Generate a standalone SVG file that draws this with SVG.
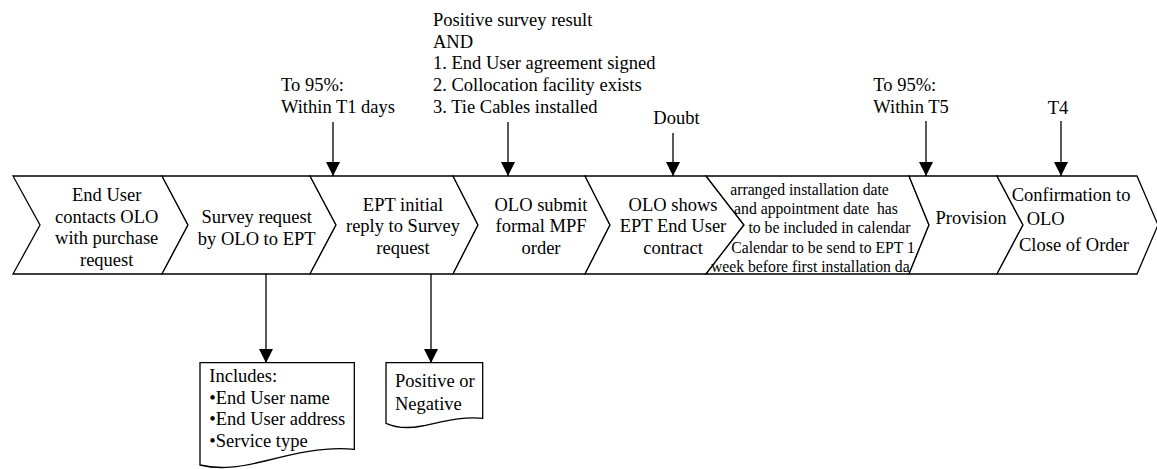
<svg xmlns="http://www.w3.org/2000/svg" width="1157" height="469" viewBox="0 0 1157 469">
<style>
.shape{fill:#fff;stroke:#000;stroke-width:1.3;stroke-linejoin:miter}
.t{font-family:"Liberation Serif","Times New Roman",serif;font-size:18.5px;fill:#000}
.s{font-family:"Liberation Serif","Times New Roman",serif;font-size:15.7px;fill:#000;white-space:pre}
.m{text-anchor:middle}
.conn{stroke:#000;stroke-width:1.3;fill:none}
</style>
<defs>
<marker id="arr" markerUnits="userSpaceOnUse" markerWidth="14" markerHeight="16" refX="14" refY="7" orient="auto">
<path d="M0,0 L14,7 L0,14 Z" fill="#000"/>
</marker>
<clipPath id="c6clip"><polygon points="690,176 909,176 929,225 909,274 690,274"/></clipPath>
</defs>
<rect width="1157" height="469" fill="#fff"/>

<g id="connectors">
<line class="conn" x1="333" y1="122" x2="333" y2="176" marker-end="url(#arr)"/>
<line class="conn" x1="508" y1="122" x2="508" y2="176" marker-end="url(#arr)"/>
<line class="conn" x1="673" y1="133" x2="673" y2="176" marker-end="url(#arr)"/>
<line class="conn" x1="926" y1="121" x2="926" y2="176" marker-end="url(#arr)"/>
<line class="conn" x1="1061" y1="121" x2="1061" y2="176" marker-end="url(#arr)"/>
<line class="conn" x1="266" y1="274" x2="266" y2="363" marker-end="url(#arr)"/>
<line class="conn" x1="431" y1="274" x2="431" y2="363" marker-end="url(#arr)"/>
</g>

<g id="note-t1">
<text class="t" x="281" y="91">To 95%:</text>
<text class="t" x="281" y="112.7">Within T1 days</text>
</g>
<g id="note-conditions">
<text class="t" x="433" y="26">Positive survey result</text>
<text class="t" x="433" y="47.7">AND</text>
<text class="t" x="433" y="69.3">1. End User agreement signed</text>
<text class="t" x="433" y="91">2. Collocation facility exists</text>
<text class="t" x="433" y="112.7">3. Tie Cables installed</text>
</g>
<g id="note-doubt">
<text class="t" x="653.3" y="124">Doubt</text>
</g>
<g id="note-t5">
<text class="t" x="873.3" y="91">To 95%:</text>
<text class="t" x="873.3" y="112.5">Within T5</text>
</g>
<g id="note-t4">
<text class="t" x="1047.7" y="114">T4</text>
</g>

<g id="step1">
<polygon class="shape" points="13,176 162,176 188,225 162,274 13,274 40,225"/>
<text class="t m" x="106.7" y="201">End User</text>
<text class="t m" x="106.7" y="222.7">contacts OLO</text>
<text class="t m" x="106.7" y="244.3">with purchase</text>
<text class="t m" x="106.7" y="266">request</text>
</g>
<g id="step2">
<polygon class="shape" points="162,176 310,176 336,225 310,274 162,274 188,225"/>
<text class="t m" x="256.7" y="223">Survey request</text>
<text class="t m" x="256.7" y="244.7">by OLO to EPT</text>
</g>
<g id="step3">
<polygon class="shape" points="310,176 453,176 478,225 453,274 310,274 336,225"/>
<text class="t m" x="403" y="210.7">EPT initial</text>
<text class="t m" x="403" y="232.3">reply to Survey</text>
<text class="t m" x="403" y="254">request</text>
</g>
<g id="step4">
<polygon class="shape" points="453,176 585,176 610,225 585,274 453,274 478,225"/>
<text class="t m" x="541" y="210.7">OLO submit</text>
<text class="t m" x="541" y="232.3">formal MPF</text>
<text class="t m" x="541" y="254">order</text>
</g>
<g id="step5">
<polygon class="shape" points="585,176 706,176 744,225 706,274 585,274 610,225"/>
<text class="t m" x="673" y="210.7">OLO shows</text>
<text class="t m" x="673" y="232.3">EPT End User</text>
<text class="t m" x="673" y="254">contract</text>
</g>
<g id="step6">
<polygon class="shape" points="706,176 909,176 929,225 909,274 706,274 744,225"/>
<g clip-path="url(#c6clip)">
<text class="s m" x="809.5" y="195">arranged installation date</text>
<text class="s m" x="816" y="214" xml:space="preserve">and appointment date  has</text>
<text class="s m" x="829.5" y="233.3">to be included in calendar</text>
<text class="s m" x="823" y="252.5">Calendar to be send to EPT 1</text>
<text class="s" x="711" y="271.7">week before first installation da</text>
</g>
</g>
<g id="step7">
<polygon class="shape" points="909,176 997,176 1023,225 997,274 909,274 929,225"/>
<text class="t m" x="971" y="224">Provision</text>
</g>
<g id="step8">
<polygon class="shape" points="997,176 1137,176 1158,225 1137,274 997,274 1023,225"/>
<text class="t" x="1011.7" y="200.7">Confirmation to</text>
<text class="t" x="1026.7" y="225">OLO</text>
<text class="t" x="1019" y="250.7">Close of Order</text>
</g>

<g id="doc-includes">
<path class="shape" d="M200,362.7 L354.3,362.7 L354.3,449.3 C325,446 292,454 265,461 C240,467 220,470 200,465 Z"/>
<text class="t" x="209.3" y="382.3">Includes:</text>
<text class="t" x="209.3" y="404">•End User name</text>
<text class="t" x="209.3" y="425">•End User address</text>
<text class="t" x="209.3" y="446.7">•Service type</text>
</g>
<g id="doc-result">
<path class="shape" d="M386,362.7 L482.7,362.7 L482.7,418.3 C462,416 442,422 422,426 C406,429 396,428 386,423.3 Z"/>
<text class="t" x="395" y="387.3">Positive or</text>
<text class="t" x="395" y="409.5">Negative</text>
</g>
</svg>
